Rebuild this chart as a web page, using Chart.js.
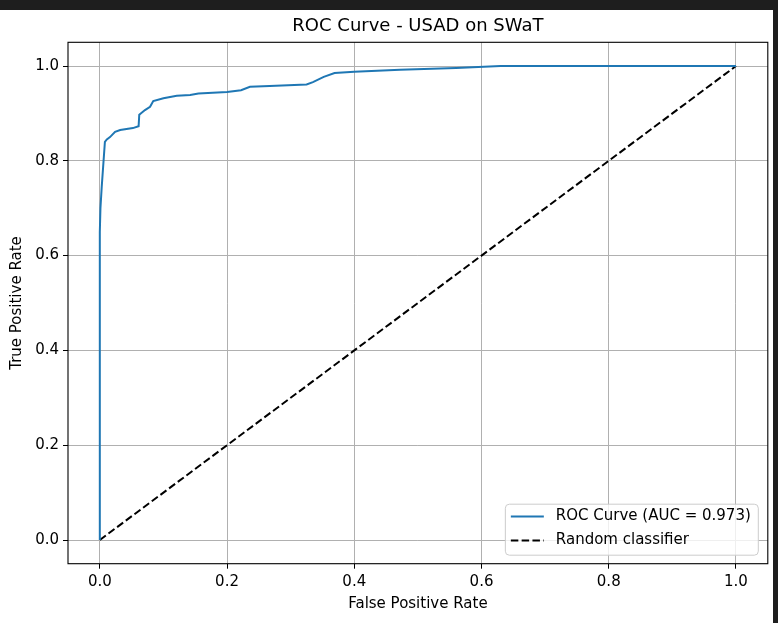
<!DOCTYPE html>
<html>
<head>
<meta charset="utf-8">
<script src="https://cdn.jsdelivr.net/npm/chart.js@4.4.1/dist/chart.umd.min.js"></script>
<style>
    html, body { margin: 0; padding: 0; width: 778px; height: 623px; overflow: hidden; background: #1e1e1e; }
    #wrap { position: absolute; left: 0; top: 10px; width: 773px; height: 613px; background: #ffffff; }
    canvas { display: block; }
</style>
</head>
<body>
<div id="wrap"><canvas id="rocChart" width="773" height="613"></canvas></div>
<script>
// valores
const fprValues = [0, 0, 0.001, 0.003, 0.008, 0.011, 0.016, 0.024, 0.032, 0.052, 0.061, 0.062, 0.071, 0.079, 0.084,
    0.100, 0.121, 0.142, 0.155, 0.200, 0.222, 0.236, 0.267, 0.325, 0.335, 0.352, 0.369, 0.400, 0.472, 0.560, 0.630, 1.0];
const tprValues = [0, 0.650, 0.700, 0.745, 0.840, 0.845, 0.850, 0.861, 0.865, 0.869, 0.873, 0.897, 0.907, 0.914, 0.926,
    0.932, 0.937, 0.939, 0.942, 0.945, 0.949, 0.956, 0.958, 0.961, 0.966, 0.977, 0.985, 0.988, 0.992, 0.996, 1.0, 1.0];
const randomX = [0, 1];
const randomY = [0, 1];

const xTickValues = [0, 0.2, 0.4, 0.6, 0.8, 1.0];
const yTickValues = [0, 0.2, 0.4, 0.6, 0.8, 1.0];

const rocLabel = 'ROC Curve (AUC = 0.973)';
const randomLabel = 'Random classifier';

const cores = {
    azul: '#1f77b4',
    preto: '#000000',
    grade: '#b0b0b0',
    bordaLegenda: '#cccccc'
};

const fonteBase = "'DejaVu Sans', 'Liberation Sans', sans-serif";
Chart.defaults.font.family = fonteBase;
Chart.defaults.color = '#000000';

// moldura completa em volta da area do grafico
const molduraPlugin = {
    id: 'moldura',
    afterDatasetsDraw(chart) {
        const { ctx, chartArea } = chart;
        ctx.save();
        ctx.strokeStyle = cores.preto;
        ctx.lineWidth = 1.1;
        ctx.strokeRect(chartArea.left, chartArea.top, chartArea.right - chartArea.left, chartArea.bottom - chartArea.top);
        ctx.restore();
    }
};

// legenda no canto inferior direito, dentro dos eixos
const legendaPlugin = {
    id: 'legendaInterna',
    afterDraw(chart) {
        const { ctx, chartArea } = chart;
        const itens = chart.data.datasets;
        ctx.save();
        ctx.font = `15px ${fonteBase}`;
        const textW = Math.max(...itens.map(d => ctx.measureText(d.label).width));
        const boxW = 6 + 33 + 12 + textW + 7;
        const boxH = 51;
        const x0 = chartArea.right - 10 - boxW;
        const y0 = chartArea.bottom - 9 - boxH;

        ctx.beginPath();
        ctx.roundRect(x0 + 0.5, y0 + 0.5, boxW, boxH, 4);
        ctx.fillStyle = 'rgba(255,255,255,0.8)';
        ctx.fill();
        ctx.strokeStyle = cores.bordaLegenda;
        ctx.lineWidth = 1;
        ctx.stroke();

        itens.forEach((d, i) => {
            const cy = y0 + 12.7 + i * 24;
            ctx.beginPath();
            ctx.strokeStyle = d.borderColor;
            ctx.lineWidth = d.borderWidth;
            ctx.setLineDash(d.borderDash || []);
            ctx.moveTo(x0 + 6, cy);
            ctx.lineTo(x0 + 39, cy);
            ctx.stroke();
            ctx.setLineDash([]);
            ctx.fillStyle = '#000000';
            ctx.textBaseline = 'middle';
            ctx.textAlign = 'left';
            ctx.fillText(d.label, x0 + 51, cy);
        });
        ctx.restore();
    }
};

const ctx = document.getElementById('rocChart');

new Chart(ctx, {
    type: 'scatter',
    data: {
        datasets: [{
            label: rocLabel,
            data: fprValues.map((x, i) => ({ x: x, y: tprValues[i] })),
            showLine: true,
            borderColor: cores.azul,
            backgroundColor: cores.azul,
            borderWidth: 2,
            pointRadius: 0,
            tension: 0
        }, {
            label: randomLabel,
            data: randomX.map((x, i) => ({ x: x, y: randomY[i] })),
            showLine: true,
            borderColor: cores.preto,
            backgroundColor: cores.preto,
            borderWidth: 2,
            borderDash: [7.5, 3.3],
            pointRadius: 0
        }]
    },
    options: {
        responsive: false,
        animation: false,
        layout: { padding: { top: 0, right: 5.2, bottom: 0, left: 0 } },
        plugins: {
            legend: { display: false },
            tooltip: { enabled: false },
            title: {
                display: true,
                fullSize: false,
                text: 'ROC Curve - USAD on SWaT',
                color: '#000000',
                font: { size: 18, weight: 'normal' },
                padding: { top: 6, bottom: 4.7 }
            }
        },
        scales: {
            x: {
                type: 'linear',
                min: -0.05,
                max: 1.05,
                afterBuildTicks: scale => { scale.ticks = xTickValues.map(v => ({ value: v })); },
                afterFit: scale => { scale.height = 59.3; },
                grid: { color: cores.grade, lineWidth: 1, tickColor: cores.preto, tickLength: 5, tickWidth: 1 },
                border: { display: false },
                ticks: {
                    padding: 4,
                    color: '#000000',
                    font: { size: 15 },
                    maxRotation: 0,
                    autoSkip: false,
                    callback: v => Number(v).toFixed(1)
                },
                title: {
                    display: true,
                    text: 'False Positive Rate',
                    color: '#000000',
                    font: { size: 15 },
                    padding: { top: 0, bottom: 10 }
                }
            },
            y: {
                type: 'linear',
                min: -0.05,
                max: 1.05,
                afterBuildTicks: scale => { scale.ticks = yTickValues.map(v => ({ value: v })); },
                afterFit: scale => { scale.width = 68; },
                grid: { color: cores.grade, lineWidth: 1, tickColor: cores.preto, tickLength: 5, tickWidth: 1 },
                border: { display: false },
                ticks: {
                    padding: 4,
                    color: '#000000',
                    font: { size: 15 },
                    autoSkip: false,
                    callback: v => Number(v).toFixed(1)
                },
                title: {
                    display: true,
                    text: 'True Positive Rate',
                    color: '#000000',
                    font: { size: 15 },
                    padding: { top: 8.5, bottom: 0 }
                }
            }
        }
    },
    plugins: [molduraPlugin, legendaPlugin]
});
</script>
</body>
</html>
